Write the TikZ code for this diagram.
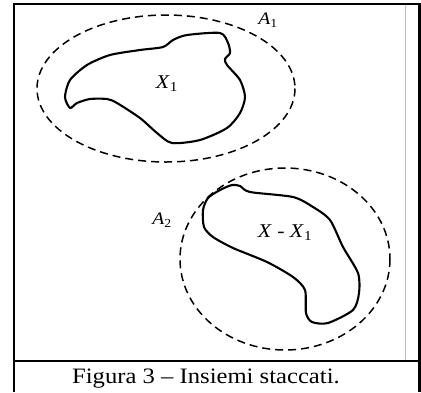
\documentclass[tikz,border=0pt]{standalone}
\usepackage{fontspec}
\setmainfont{Liberation Serif}
\usepackage{tikz}
\definecolor{rulegray}{RGB}{190, 190, 190}
\newcommand{\widetext}[1]{\scalebox{1.12}[1]{#1}}

\begin{document}
\begin{tikzpicture}[x=1pt, y=-1pt,
    setline/.style={line width=2.1pt, line join=round},
    nbhd/.style={line width=1.5pt, dash pattern=on 8pt off 5pt},
    nbhdlabel/.style={font=\fontsize{17.5}{20}\selectfont, inner sep=0pt},
    setlabel/.style={font=\fontsize{19.5}{22}\selectfont, inner sep=0pt}]

  \useasboundingbox (0,0) rectangle (421,392);

  % ── Frame ─────────────────────────────────────────────────────────────────
  \draw[rulegray, line width=0.8pt] (405.5, 4) -- (405.5, 360);
  \draw[line width=2.4pt] (14, 392) -- (14, 4) -- (419.3, 4) -- (419.3, 392);
  \draw[line width=2.4pt] (14, 361) -- (419.3, 361);

  % ── First set X_1 and its neighbourhood A_1 ───────────────────────────────
  \draw[nbhd] (166, 88.5) ellipse [x radius=129, y radius=73.5];
  \draw[setline] plot[smooth cycle, tension=0.45] coordinates {
    (70,108) (65,97) (70,80) (87,65) (110,55) (140,50) (163,47)
    (173,40) (187,35) (220,33) (228,43) (230,53) (225,59) (227,65)
    (240,80) (245,97) (240,113) (227,128) (200,140) (172,143)
    (157,133) (140,118) (117,103) (107,99) (90,99) (77,103)};
  \node[nbhdlabel] (labA1) at (268, 20) {\widetext{\textit{A}\textsubscript{1}}};
  \node[setlabel] (labX1) at (167, 84) {\widetext{\textit{X}\textsubscript{1}}};

  % ── Complement X - X_1 and its neighbourhood A_2 ──────────────────────────
  \draw[nbhd] (285, 259) ellipse [x radius=105, y radius=91];
  \draw[setline] plot[smooth cycle, tension=0.45] coordinates {
    (208,198) (203,210) (204,227) (213,237) (233,248) (267,262)
    (293,277) (305,290) (306,313) (312,322) (328,323) (353,310)
    (359,293) (358,273) (343,247) (330,220) (313,207) (293,197)
    (250,192) (240,186) (232,185) (220,190)};
  \node[nbhdlabel] (labA2) at (162, 220) {\widetext{\textit{A}\textsubscript{2}}};
  \node[setlabel] (labXX1) at (285, 233)
    {\widetext{\textit{X} - \textit{X}\textsubscript{1}}};

  % ── Caption ───────────────────────────────────────────────────────────────
  \node[anchor=base west, inner sep=0pt, font=\fontsize{22}{26}\selectfont]
    (caption) at (72, 383) {\widetext{Figura 3 – Insiemi staccati.}};

\end{tikzpicture}
\end{document}
